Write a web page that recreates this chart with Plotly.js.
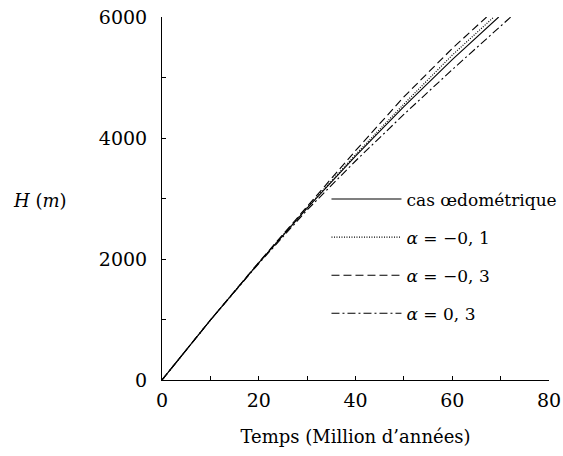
<!DOCTYPE html>
<html>
<head>
<meta charset="utf-8">
<script src="https://cdn.plot.ly/plotly-3.0.1.min.js"></script>
<style>body{margin:0;padding:0;background:#fff;} #chart{width:563px;height:456px;}</style>
</head>
<body>
<div id="chart"></div>
<script>
// Time (million years)
const tSolid = [0, 10, 20, 30, 40, 50, 60, 69.6];
const hSolid = [0, 990, 1936, 2840, 3702, 4520, 5296, 6000];

const tDot = [0, 10, 20, 30, 40, 50, 60, 68.6];
const hDot = [0, 990, 1938, 2850, 3725, 4560, 5370, 6000];

const tDash = [0, 10, 20, 30, 40, 50, 60, 67.1];
const hDash = [0, 990, 1945, 2875, 3790, 4680, 5480, 6000];

const tDashDot = [0, 10, 20, 30, 40, 50, 60, 70, 72.1];
const hDashDot = [0, 990, 1925, 2810, 3620, 4390, 5130, 5850, 6000];

const seriesNames = ["cas œdométrique", "<i>α</i> = −0, 1", "<i>α</i> = −0, 3", "<i>α</i> = 0, 3"];

const xTickVals = [0, 10, 20, 30, 40, 50, 60, 70, 80];
const xTickText = ["0", "", "20", "", "40", "", "60", "", "80"];
const yTickVals = [0, 1000, 2000, 3000, 4000, 5000, 6000];
const yTickText = ["0", "", "2000", "", "4000", "", "6000"];

const font = "DejaVu Serif";

const mk = (x, y, name, dash, w, g) => ({
  x: x, y: y, name: name, type: "scatter", mode: "lines",
  line: {color: "#000", width: w, dash: dash},
  legendgroup: g
});

const data = [
  mk(tSolid, hSolid, seriesNames[0], "solid", 1.1, "a"),
  mk(tDot, hDot, seriesNames[1], "1px,1.5px", 1.2, "b"),
  mk(tDash, hDash, seriesNames[2], "8px,4px", 1.1, "c"),
  mk(tDashDot, hDashDot, seriesNames[3], "8px,3px,2px,3px", 1.1, "d")
];

const layout = {
  width: 563, height: 456,
  margin: {l: 162, r: 13.5, t: 17, b: 76, autoexpand: false},
  paper_bgcolor: "#fff", plot_bgcolor: "#fff",
  font: {family: font, color: "#000", size: 18},
  showlegend: true,
  legend: {
    x: 0.425, y: 0.547, xanchor: "left", yanchor: "top",
    bgcolor: "rgba(0,0,0,0)", borderwidth: 0,
    font: {family: font, size: 17, color: "#000"},
    traceorder: "grouped", tracegroupgap: 13,
    itemwidth: 70
  },
  xaxis: {
    range: [0, 80], showgrid: false, zeroline: false, automargin: false,
    showline: true, linecolor: "#000", linewidth: 1,
    ticks: "inside", ticklen: 4, tickcolor: "#000", tickwidth: 1,
    tickmode: "array", tickvals: xTickVals, ticktext: xTickText,
    tickfont: {family: font, size: 19},
    ticklabelstandoff: 3,
    title: {text: "Temps (Million d’années)", font: {family: font, size: 18}, standoff: 20}
  },
  yaxis: {
    range: [0, 6000], showgrid: false, zeroline: false, automargin: false,
    showline: true, linecolor: "#000", linewidth: 1,
    ticks: "inside", ticklen: 4, tickcolor: "#000", tickwidth: 1,
    tickmode: "array", tickvals: yTickVals, ticktext: yTickText,
    tickfont: {family: font, size: 19},
    ticklabelstandoff: 10
  },
  annotations: [{
    text: "<i>H</i> (<i>m</i>)", xref: "paper", yref: "paper",
    x: -0.315, y: 0.495, xanchor: "center", yanchor: "middle",
    showarrow: false, font: {family: font, size: 18, color: "#000"}
  }]
};

Plotly.newPlot("chart", data, layout, {displayModeBar: false, staticPlot: true});
</script>
</body>
</html>
